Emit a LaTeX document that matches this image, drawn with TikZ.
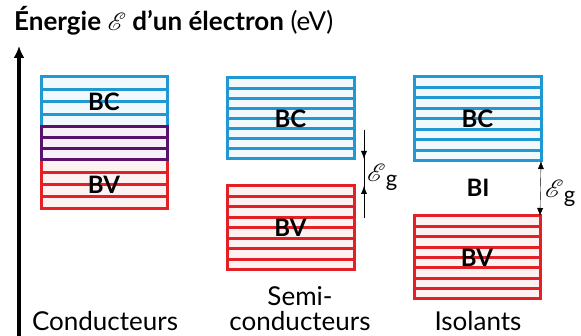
\documentclass[tikz,border=0pt]{standalone}
\usepackage{fontspec}
\setmainfont{Lato}
\usepackage{mathrsfs}
\usepackage{bm}
\usetikzlibrary{arrows.meta,calc}

\definecolor{bandblue}{RGB}{32,152,212}
\definecolor{bandred}{RGB}{226,32,38}
\definecolor{bandpurple}{RGB}{88,18,108}

\newcommand{\Egap}{$\mathscr{E}$\raisebox{-0.4ex}{\fontsize{22}{22}\selectfont g}}

\begin{document}
\begin{tikzpicture}[
    x=1pt, y=-1pt,
    >=Latex,
    axis/.style={-{Latex[length=12pt,width=11pt]}, line width=3.5pt},
    band/.style 2 args={draw=#1, line width=3pt, fill=#1!6,
        inner sep=0, outer sep=0, anchor=north west,
        font=\fontsize{24}{24}\selectfont\bfseries,
        path picture={
            \foreach \k [evaluate=\k as \f using \k/(#2+1)] in {1,...,#2}
                \draw[#1, line width=3pt]
                    ($(path picture bounding box.north west)!\f!(path picture bounding box.south west)$) --
                    ($(path picture bounding box.north east)!\f!(path picture bounding box.south east)$);
        }},
    gap/.style={-{Latex[length=8pt,width=6pt]}, thin},
    label/.style={font=\fontsize{26}{25}\selectfont, align=center}
]
\useasboundingbox (0,0) rectangle (581,336);

% Axe des energies
\coordinate (axisBot) at (19,336);
\coordinate (axisTop) at (19,46);
\draw[axis] (axisBot) -- (axisTop);
\node[anchor=base west, inner sep=0, font=\fontsize{26}{27}\selectfont] (title) at (14,31)
    {\textbf{Énergie $\bm{\mathscr{E}}$ d'un électron} (eV)};

% Conducteurs
\node[band={bandblue}{3}, minimum width=126, minimum height=50] (cBC) at (41,77) {BC};
\node[band={bandred}{3}, minimum width=126, minimum height=49] (cBV) at (41,160) {BV};
\node[band={bandpurple}{2}, minimum width=126, minimum height=33] (cMid) at (41,127) {};
\node[label, anchor=base] (cName) at (105,331) {Conducteurs};

% Semi-conducteurs
\node[band={bandblue}{7}, minimum width=127, minimum height=81] (sBC) at (227,78) {BC};
\node[band={bandred}{7}, minimum width=127, minimum height=84] (sBV) at (227,186) {BV};
\coordinate (sTop) at (364,130);
\coordinate (sBot) at (364,218);
\draw[thin] (sTop) -- (sBot);
\draw[gap] (sTop) -- (sBC.south -| sTop);
\draw[gap] (sBot) -- (sBV.north -| sBot);
\node[anchor=west, label, inner sep=0] (sGap) at (367,177) {\Egap};
\node[label, anchor=base] (sName) at (300,331) {Semi-\\conducteurs};

% Isolants
\node[band={bandblue}{7}, minimum width=127, minimum height=84] (iBC) at (414,77) {BC};
\node[band={bandred}{7}, minimum width=126, minimum height=83] (iBV) at (414,216) {BV};
\node[font=\fontsize{24}{24}\selectfont\bfseries] (iBI) at (478,188) {BI};
\draw[gap, {Latex[length=8pt,width=6pt]}-{Latex[length=8pt,width=6pt]}] (iBC.south east) -- (iBV.north east);
\node[anchor=west, label, inner sep=0] (iGap) at (545,193) {\Egap};
\node[label, anchor=base] (iName) at (478,331) {Isolants};
\end{tikzpicture}
\end{document}
